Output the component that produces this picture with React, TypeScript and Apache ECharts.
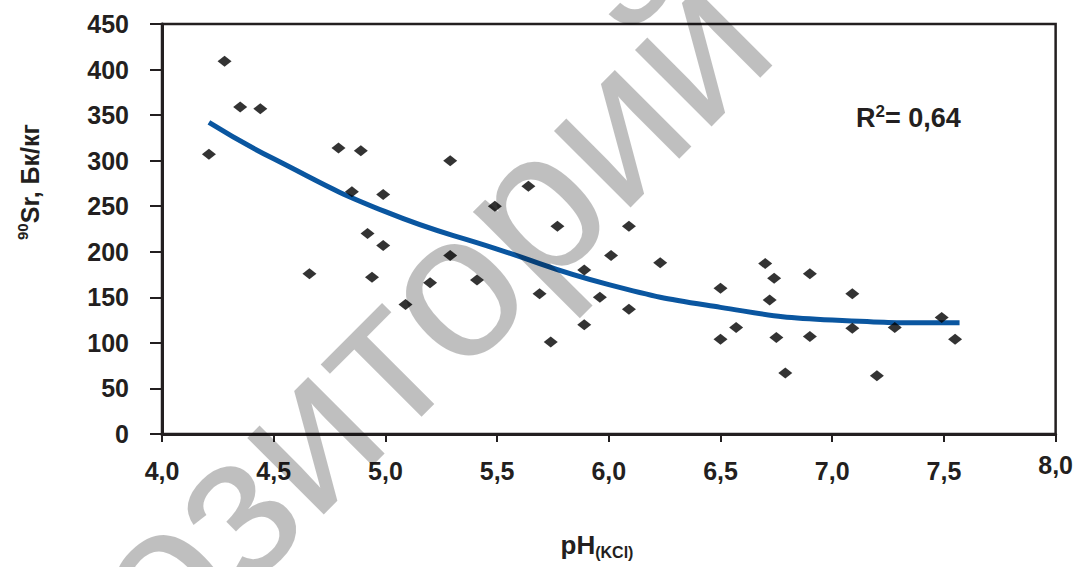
import React, { useEffect, useRef } from "react";
import * as echarts from "echarts";

// Observed points: pH(KCl) and 90Sr activity, Bq/kg
const phValues = [
  4.21, 4.28, 4.35, 4.44, 4.66, 4.79, 4.89, 4.85, 4.99, 4.92, 4.99, 4.94, 5.09, 5.2, 5.29,
  5.29, 5.41, 5.49, 5.64, 5.69, 5.77, 5.74, 5.89, 5.89, 5.96, 6.01, 6.09, 6.09, 6.23, 6.5,
  6.5, 6.57, 6.7, 6.74, 6.72, 6.75, 6.79, 6.9, 6.9, 7.09, 7.09, 7.2, 7.28, 7.49, 7.55,
];
const srValues = [
  307, 409, 359, 357, 176, 314, 311, 266, 263, 220, 207, 172, 142, 166, 300,
  196, 169, 250, 272, 154, 228, 101, 180, 120, 150, 196, 228, 137, 188, 160,
  104, 117, 187, 171, 147, 106, 67, 176, 107, 154, 116, 64, 117, 128, 104,
];

// Trend line
const trendPh = [4.21, 4.5, 5.0, 5.5, 6.0, 6.5, 7.0, 7.5, 7.57];
const trendSr = [342, 302, 244, 203, 164, 139, 125, 122, 122];

const xMin = 4;
const xMax = 8;
const xStep = 0.5;
const yMin = 0;
const yMax = 450;
const yStep = 50;

const rSquaredLabel = "0,64";
const yTitleSup = "90";
const yTitleMain = "Sr, Бк/кг";
const xTitleMain = "pH";
const xTitleSub = "(KCl)";
const watermark = "репозиторий";

const FONT = "Arial, 'Liberation Sans', sans-serif";
const INK = "#231f20";

export default function App() {
  const ref = useRef<HTMLDivElement>(null);

  useEffect(() => {
    if (!ref.current) return;
    const chart = echarts.init(ref.current, undefined, { renderer: "svg" });
    const scatterData = phValues.map((x, i) => [x, srValues[i]]);
    const trendData = trendPh.map((x, i) => [x, trendSr[i]]);

    chart.setOption({
      animation: false,
      backgroundColor: "#ffffff",
      grid: {
        left: 162,
        right: 17,
        top: 24,
        bottom: 133,
        show: true,
        borderColor: INK,
        borderWidth: 2.5,
        backgroundColor: "transparent",
      },
      xAxis: {
        type: "value",
        min: xMin,
        max: xMax,
        interval: xStep,
        axisLine: { show: true, onZero: false, lineStyle: { color: INK, width: 3 } },
        axisTick: { show: true, inside: false, length: 8, lineStyle: { color: INK, width: 2 } },
        splitLine: { show: false },
        axisLabel: {
          margin: 37,
          verticalAlign: "middle",
          color: INK,
          fontFamily: FONT,
          fontWeight: "bold",
          fontSize: 25,
          formatter: (v: number) => {
            const s = v.toFixed(1).replace(".", ",");
            return v === xMax ? `{hi|${s}}\n{gap| }` : s;
          },
          rich: {
            hi: { fontFamily: FONT, fontWeight: "bold", fontSize: 25, color: INK, lineHeight: 28 },
            gap: { fontSize: 4, lineHeight: 12 },
          },
        },
      },
      yAxis: {
        type: "value",
        min: yMin,
        max: yMax,
        interval: yStep,
        axisLine: { show: true, onZero: false, lineStyle: { color: INK, width: 3 } },
        axisTick: { show: true, inside: false, length: 12, lineStyle: { color: INK, width: 2 } },
        splitLine: { show: false },
        axisLabel: {
          margin: 33,
          color: INK,
          fontFamily: FONT,
          fontWeight: "bold",
          fontSize: 25,
        },
      },
      series: [
        {
          type: "line",
          data: trendData,
          smooth: true,
          showSymbol: false,
          lineStyle: { color: "#0a56a0", width: 5 },
          z: 2,
        },
        {
          type: "scatter",
          data: scatterData,
          symbol: "diamond",
          symbolSize: [14, 11],
          itemStyle: { color: "#000000" },
          z: 3,
        },
      ],
      graphic: [
        {
          type: "text",
          x: 30,
          y: 182,
          rotation: Math.PI / 2,
          style: {
            text: `{sup|${yTitleSup}}{m|${yTitleMain}}`,
            align: "center",
            verticalAlign: "middle",
            fill: INK,
            rich: {
              m: { fontSize: 25, fontWeight: "bold", fontFamily: FONT, lineHeight: 30, fill: INK },
              sup: { fontSize: 15, fontWeight: "bold", fontFamily: FONT, lineHeight: 16, verticalAlign: "top", fill: INK },
            },
          },
        },
        {
          type: "text",
          x: 856,
          y: 118,
          style: {
            text: `{m|R}{sup|2}{m|= ${rSquaredLabel}}`,
            align: "left",
            verticalAlign: "middle",
            fill: INK,
            rich: {
              m: { fontSize: 27, fontWeight: "bold", fontFamily: FONT, lineHeight: 30, fill: INK },
              sup: { fontSize: 17, fontWeight: "bold", fontFamily: FONT, lineHeight: 16, verticalAlign: "top", fill: INK },
            },
          },
        },
        {
          type: "text",
          x: 597,
          y: 545,
          style: {
            text: `{m|${xTitleMain}}{sub|${xTitleSub}}`,
            align: "center",
            verticalAlign: "middle",
            fill: INK,
            rich: {
              m: { fontSize: 26, fontWeight: "bold", fontFamily: FONT, lineHeight: 30, fill: INK },
              sub: { fontSize: 16, fontWeight: "bold", fontFamily: FONT, lineHeight: 18, verticalAlign: "bottom", fill: INK },
            },
          },
        },
        {
          type: "text",
          x: 305,
          y: 432,
          rotation: Math.PI / 4,
          z: 100,
          silent: true,
          style: {
            text: watermark,
            align: "center",
            verticalAlign: "middle",
            fontSize: 205,
            fontFamily: FONT,
            fontWeight: "normal",
            fill: "rgba(0,0,0,0.25)",
          },
        },
      ],
    });
    return () => chart.dispose();
  }, []);

  return <div ref={ref} style={{ width: 1076, height: 567, position: "absolute", left: 0, top: 0 }} />;
}
